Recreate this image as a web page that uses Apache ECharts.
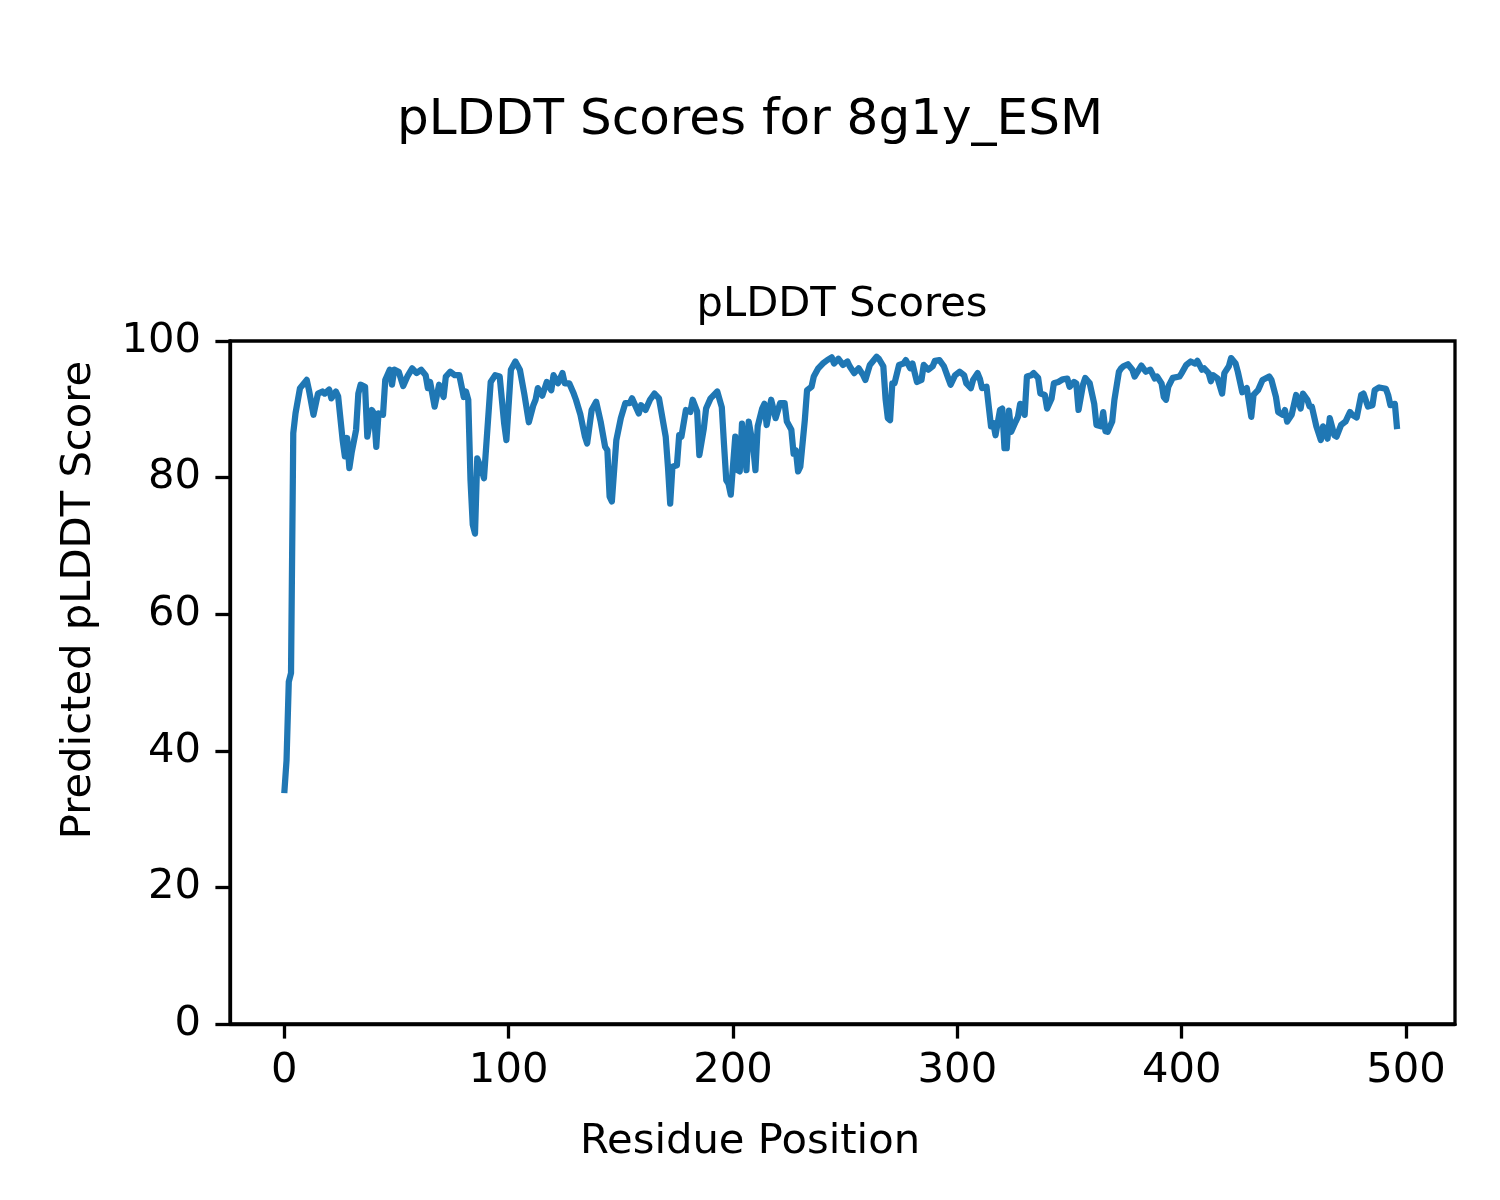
<!DOCTYPE html>
<html>
<head>
<meta charset="utf-8">
<script src="https://cdn.jsdelivr.net/npm/echarts@6/dist/echarts.min.js"></script>
<style>
html,body{margin:0;padding:0;background:#fff;}
#chart{width:1500px;height:1200px;}
</style>
</head>
<body>
<div id="chart"></div>
<script>
var suptitleText = "pLDDT Scores for 8g1y_ESM";
var axesTitleText = "pLDDT Scores";
var xLabelText = "Residue Position";
var yLabelText = "Predicted pLDDT Score";
var xTicks = [0, 100, 200, 300, 400, 500];
var yTicks = [0, 20, 40, 60, 80, 100];

var residues = [0,1,2,3,4,5,7,8,10,11,13,15,17,18,20,21,23,24,26,27,28,29,30,32,33,34,36,37,39,40,41,42,44,45,47,48,49,51,53,55,57,59,61,63,64,65,67,69,71,72,74,76,78,80,81,82,83,84,85,86,88,89,92,94,96,98,99,101,103,105,107,109,111,112,113,115,117,119,120,122,124,125,127,129,130,132,134,135,137,139,141,143,144,145,146,148,150,152,154,155,158,159,161,163,165,167,170,171,172,173,175,176,177,179,181,182,184,185,187,188,190,193,195,196,197,198,199,201,202,203,204,206,207,209,210,211,213,214,215,217,219,221,223,224,226,227,228,229,230,232,233,235,236,238,240,242,244,245,247,249,251,252,254,256,258,259,261,264,265,267,268,269,270,271,272,274,276,277,279,280,281,282,284,285,287,289,290,292,294,296,297,299,301,303,304,306,307,309,310,311,313,314,315,316,317,319,320,321,322,323,324,326,327,328,330,331,333,334,336,337,339,340,342,343,345,347,349,350,352,353,354,356,357,359,361,362,364,365,366,367,369,370,372,373,374,376,378,379,382,384,386,388,389,391,392,393,394,396,399,400,402,404,406,407,409,410,412,413,414,416,418,419,421,422,424,425,427,428,429,431,432,434,436,439,440,442,443,445,446,447,449,451,453,454,456,457,458,460,462,463,465,466,468,469,471,473,475,476,478,480,481,483,485,486,488,491,492,493,495,496];

var scores = [33.8,38.6,50.1,51.4,86.5,89.4,93.1,93.5,94.3,92.8,89.2,92.3,92.6,92.3,92.9,91.6,92.6,91.9,85.5,83.1,85.8,81.4,83.6,87.0,92.3,93.6,93.3,86.0,89.9,89.4,84.5,89.4,89.2,94.3,95.8,93.6,95.8,95.5,93.4,94.9,96.0,95.3,95.8,95.0,93.1,94.0,90.4,93.6,91.8,94.8,95.5,95.0,95.0,91.8,92.6,91.4,79.6,73.1,71.8,82.8,81.1,79.9,94.0,95.0,94.8,87.9,85.5,95.8,97.0,95.8,92.2,88.1,90.6,91.4,93.1,92.0,94.0,92.8,95.0,93.8,95.3,93.8,93.8,92.3,91.4,89.2,86.0,85.0,89.9,91.1,88.2,84.5,84.0,77.2,76.5,85.5,88.7,90.9,90.9,91.6,89.4,90.6,89.9,91.4,92.3,91.6,86.0,81.6,76.2,81.6,81.8,86.2,86.0,89.9,89.6,91.4,89.7,83.3,87.2,90.1,91.6,92.6,90.3,84.8,79.6,79.1,77.5,86.0,81.1,80.9,87.9,81.1,88.2,84.5,81.1,87.5,90.1,90.8,87.7,91.4,88.7,90.9,90.9,88.2,87.0,83.5,84.0,80.9,81.6,88.4,92.8,93.3,94.8,96.0,96.7,97.2,97.6,96.7,97.4,96.5,97.0,96.3,95.3,96.0,95.0,94.3,96.5,97.7,97.4,96.3,91.5,88.7,88.4,93.8,93.8,96.5,96.7,97.2,96.0,96.7,95.3,94.0,94.3,96.5,95.8,96.3,97.1,97.2,96.3,94.5,93.6,95.0,95.5,95.0,93.8,93.1,94.3,95.3,94.5,93.1,93.3,90.4,87.5,88.0,86.2,89.9,90.1,84.3,84.3,89.8,86.7,88.2,88.9,90.8,89.2,94.8,95.0,95.3,94.6,92.3,92.1,90.1,91.6,93.8,94.0,94.4,94.5,93.3,94.0,93.8,89.9,93.6,94.6,93.8,90.8,87.7,87.5,89.6,86.8,86.7,88.2,91.4,95.5,96.0,96.3,96.6,95.8,94.8,96.4,95.5,95.8,94.5,94.8,93.8,91.8,91.4,93.3,94.6,94.8,95.3,96.5,97.0,96.7,97.1,95.8,96.0,95.3,94.1,95.0,94.5,92.3,95.3,96.3,97.5,96.7,95.5,92.5,92.8,93.1,88.9,92.1,92.8,94.3,94.8,94.3,91.8,89.6,89.2,89.9,88.2,89.2,92.1,90.1,92.3,91.4,90.4,90.4,87.5,85.5,87.5,85.7,88.7,86.2,86.0,87.7,88.2,89.6,89.2,88.8,92.1,92.3,90.4,90.6,92.8,93.2,93.0,92.1,90.6,90.8,87.1];

var lineData = residues.map(function (r, i) { return [r, scores[i]]; });

var FONT = '"DejaVu Sans", sans-serif';
var chart = echarts.init(document.getElementById('chart'), null, {renderer: 'canvas', width: 1500, height: 1200});

chart.setOption({
  animation: false,
  backgroundColor: '#ffffff',
  grid: {
    left: 230, top: 341, width: 1225, height: 683,
    show: true, borderColor: '#000000', borderWidth: 3.3, backgroundColor: 'transparent'
  },
  xAxis: {
    type: 'value',
    min: -24.2, max: 521.8,
    axisLine: {show: true, onZero: false, lineStyle: {color: '#000', width: 3.3}},
    axisTick: {show: true, inside: false, length: 14.6, customValues: xTicks, lineStyle: {color: '#000', width: 3.3}},
    axisLabel: {show: true, customValues: xTicks, margin: 26, color: '#000', fontSize: 41.7, fontFamily: FONT,
      showMinLabel: true, showMaxLabel: true},
    splitLine: {show: false}
  },
  yAxis: {
    type: 'value',
    min: 0, max: 100, interval: 20,
    axisLine: {show: true, onZero: false, lineStyle: {color: '#000', width: 3.3}},
    axisTick: {show: true, inside: false, length: 14.6, customValues: yTicks, lineStyle: {color: '#000', width: 3.3}},
    axisLabel: {show: true, customValues: yTicks, margin: 29, color: '#000', fontSize: 41.7, fontFamily: FONT},
    splitLine: {show: false}
  },
  series: [{
    type: 'line',
    data: lineData,
    showSymbol: false,
    symbol: 'none',
    smooth: false,
    clip: true,
    lineStyle: {color: '#1f77b4', width: 6.25, join: 'round', cap: 'butt'},
    emphasis: {disabled: true}
  }],
  graphic: [
    {type: 'text', x: 750, y: 121, style: {text: suptitleText, fill: '#000', font: '50px ' + FONT, textAlign: 'center', textVerticalAlign: 'middle'}},
    {type: 'text', x: 842, y: 305, style: {text: axesTitleText, fill: '#000', font: '41.7px ' + FONT, textAlign: 'center', textVerticalAlign: 'middle'}},
    {type: 'text', x: 750, y: 1142, style: {text: xLabelText, fill: '#000', font: '41.7px ' + FONT, textAlign: 'center', textVerticalAlign: 'middle'}},
    {type: 'text', x: 79, y: 600, rotation: Math.PI / 2, style: {text: yLabelText, fill: '#000', font: '41.7px ' + FONT, textAlign: 'center', textVerticalAlign: 'middle'}}
  ]
});
</script>
</body>
</html>
